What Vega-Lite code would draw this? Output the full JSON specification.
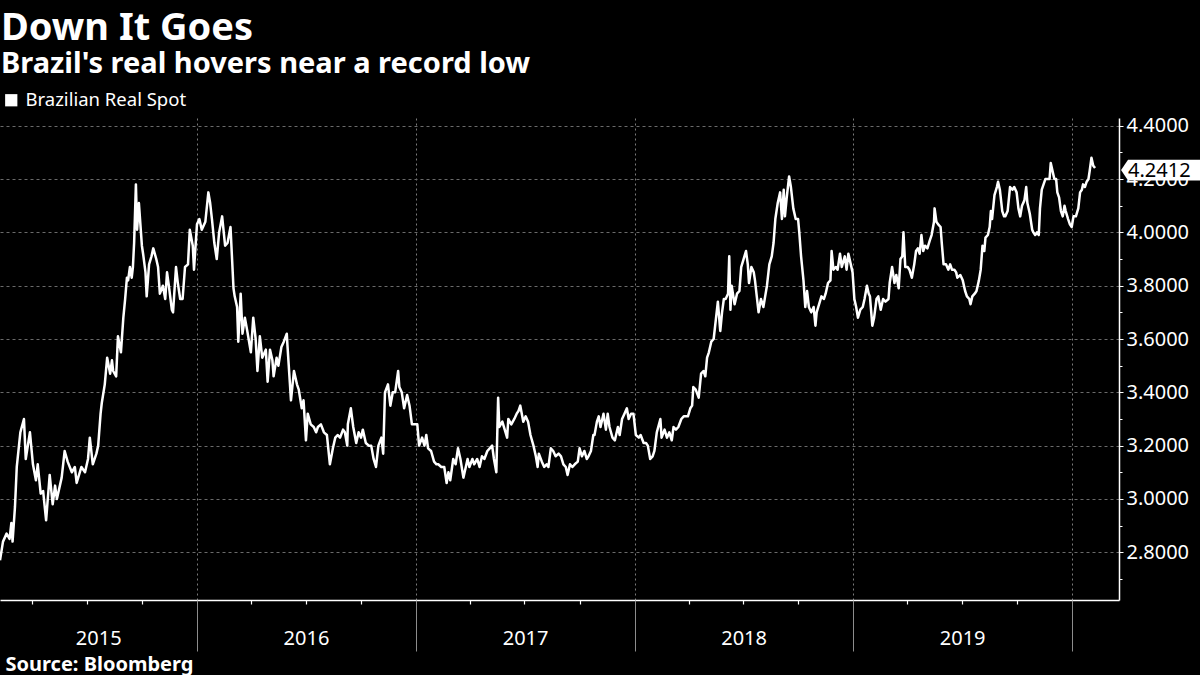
{
  "$schema": "https://vega.github.io/schema/vega-lite/v6.json",
  "background": "black",
  "width": 1119,
  "height": 482,
  "autosize": {"type": "none"},
  "padding": {"left": 0, "top": 118, "right": 81, "bottom": 75},
  "title": {
    "text": "Down It Goes",
    "subtitle": "Brazil's real hovers near a record low",
    "anchor": "start",
    "frame": "group",
    "color": "white",
    "subtitleColor": "white",
    "font": "Noto Sans",
    "subtitleFont": "Noto Sans",
    "fontSize": 38,
    "subtitleFontSize": 29,
    "fontWeight": "bold",
    "subtitleFontWeight": "bold",
    "subtitlePadding": 2,
    "offset": 12,
    "dx": 1
  },
  "config": {
    "view": {"stroke": null},
    "font": "Noto Sans",
    "legend": {
      "orient": "none",
      "legendX": 2,
      "legendY": -27,
      "padding": 0,
      "symbolType": "square",
      "symbolSize": 150,
      "symbolFillColor": "white",
      "symbolStrokeColor": "white",
      "symbolStrokeWidth": 0,
      "labelColor": "white",
      "labelFont": "Noto Sans",
      "labelFontSize": 18.5,
      "labelLimit": 400,
      "labelOffset": 5,
      "title": null
    }
  },
  "datasets": {
    "fx": [
      {"date":"2015-02-06","value":2.77},{"date":"2015-02-11","value":2.84},{"date":"2015-02-17","value":2.87},{"date":"2015-02-22","value":2.85},{"date":"2015-02-25","value":2.91},{"date":"2015-02-27","value":2.84},
      {"date":"2015-03-03","value":2.97},{"date":"2015-03-06","value":3.12},{"date":"2015-03-12","value":3.25},{"date":"2015-03-18","value":3.30},{"date":"2015-03-21","value":3.15},{"date":"2015-03-28","value":3.25},
      {"date":"2015-04-02","value":3.13},{"date":"2015-04-07","value":3.07},{"date":"2015-04-10","value":3.13},{"date":"2015-04-15","value":3.02},{"date":"2015-04-19","value":3.03},{"date":"2015-04-24","value":2.92},{"date":"2015-04-30","value":3.09},
      {"date":"2015-05-05","value":2.98},{"date":"2015-05-09","value":3.05},{"date":"2015-05-12","value":3.00},{"date":"2015-05-20","value":3.08},{"date":"2015-05-25","value":3.18},{"date":"2015-05-30","value":3.14},
      {"date":"2015-06-06","value":3.10},{"date":"2015-06-11","value":3.12},{"date":"2015-06-14","value":3.06},{"date":"2015-06-22","value":3.12},{"date":"2015-06-28","value":3.10},
      {"date":"2015-07-03","value":3.15},{"date":"2015-07-06","value":3.23},{"date":"2015-07-11","value":3.13},{"date":"2015-07-17","value":3.17},{"date":"2015-07-20","value":3.20},{"date":"2015-07-24","value":3.32},{"date":"2015-07-26","value":3.36},{"date":"2015-07-31","value":3.43},
      {"date":"2015-08-04","value":3.53},{"date":"2015-08-09","value":3.47},{"date":"2015-08-12","value":3.52},{"date":"2015-08-14","value":3.48},{"date":"2015-08-19","value":3.46},{"date":"2015-08-22","value":3.61},{"date":"2015-08-27","value":3.55},{"date":"2015-08-31","value":3.68},
      {"date":"2015-09-03","value":3.75},{"date":"2015-09-06","value":3.83},{"date":"2015-09-08","value":3.82},{"date":"2015-09-11","value":3.87},{"date":"2015-09-14","value":3.83},{"date":"2015-09-16","value":3.87},{"date":"2015-09-18","value":3.96},{"date":"2015-09-21","value":4.18},{"date":"2015-09-23","value":4.01},{"date":"2015-09-26","value":4.11},
      {"date":"2015-10-01","value":3.95},{"date":"2015-10-03","value":3.92},{"date":"2015-10-07","value":3.85},{"date":"2015-10-09","value":3.76},{"date":"2015-10-13","value":3.88},{"date":"2015-10-17","value":3.91},{"date":"2015-10-20","value":3.94},{"date":"2015-10-25","value":3.90},{"date":"2015-10-28","value":3.87},{"date":"2015-10-31","value":3.77},
      {"date":"2015-11-05","value":3.80},{"date":"2015-11-09","value":3.75},{"date":"2015-11-12","value":3.85},{"date":"2015-11-15","value":3.80},{"date":"2015-11-20","value":3.71},{"date":"2015-11-22","value":3.70},{"date":"2015-11-27","value":3.87},{"date":"2015-11-30","value":3.81},
      {"date":"2015-12-04","value":3.75},{"date":"2015-12-08","value":3.75},{"date":"2015-12-12","value":3.87},{"date":"2015-12-17","value":3.88},{"date":"2015-12-20","value":4.01},{"date":"2015-12-25","value":3.95},{"date":"2015-12-27","value":3.86},
      {"date":"2016-01-01","value":4.03},{"date":"2016-01-05","value":4.05},{"date":"2016-01-09","value":4.01},{"date":"2016-01-15","value":4.04},{"date":"2016-01-20","value":4.15},{"date":"2016-01-23","value":4.11},{"date":"2016-01-26","value":4.05},{"date":"2016-01-30","value":3.96},
      {"date":"2016-02-03","value":3.90},{"date":"2016-02-07","value":4.00},{"date":"2016-02-12","value":4.06},{"date":"2016-02-17","value":3.95},{"date":"2016-02-21","value":3.96},{"date":"2016-02-26","value":4.02},
      {"date":"2016-03-02","value":3.79},{"date":"2016-03-04","value":3.76},{"date":"2016-03-08","value":3.72},{"date":"2016-03-10","value":3.59},{"date":"2016-03-14","value":3.77},{"date":"2016-03-17","value":3.62},{"date":"2016-03-21","value":3.68},{"date":"2016-03-25","value":3.63},{"date":"2016-03-31","value":3.55},
      {"date":"2016-04-04","value":3.68},{"date":"2016-04-08","value":3.60},{"date":"2016-04-11","value":3.48},{"date":"2016-04-15","value":3.61},{"date":"2016-04-19","value":3.53},{"date":"2016-04-25","value":3.56},{"date":"2016-04-28","value":3.44},
      {"date":"2016-05-02","value":3.56},{"date":"2016-05-06","value":3.52},{"date":"2016-05-08","value":3.46},{"date":"2016-05-13","value":3.53},{"date":"2016-05-16","value":3.50},{"date":"2016-05-21","value":3.57},{"date":"2016-05-25","value":3.59},{"date":"2016-05-30","value":3.62},{"date":"2016-05-31","value":3.58},
      {"date":"2016-06-06","value":3.37},{"date":"2016-06-11","value":3.48},{"date":"2016-06-16","value":3.43},{"date":"2016-06-19","value":3.41},{"date":"2016-06-24","value":3.34},{"date":"2016-06-27","value":3.37},
      {"date":"2016-07-01","value":3.22},{"date":"2016-07-04","value":3.32},{"date":"2016-07-09","value":3.28},{"date":"2016-07-14","value":3.27},{"date":"2016-07-18","value":3.25},{"date":"2016-07-21","value":3.27},{"date":"2016-07-26","value":3.28},{"date":"2016-07-31","value":3.25},
      {"date":"2016-08-05","value":3.24},{"date":"2016-08-10","value":3.13},{"date":"2016-08-15","value":3.19},{"date":"2016-08-19","value":3.23},{"date":"2016-08-23","value":3.24},{"date":"2016-08-27","value":3.23},
      {"date":"2016-09-01","value":3.26},{"date":"2016-09-04","value":3.25},{"date":"2016-09-08","value":3.20},{"date":"2016-09-09","value":3.28},{"date":"2016-09-14","value":3.34},{"date":"2016-09-18","value":3.27},{"date":"2016-09-23","value":3.21},{"date":"2016-09-27","value":3.25},
      {"date":"2016-10-01","value":3.23},{"date":"2016-10-04","value":3.26},{"date":"2016-10-09","value":3.21},{"date":"2016-10-14","value":3.20},{"date":"2016-10-18","value":3.20},{"date":"2016-10-22","value":3.15},{"date":"2016-10-26","value":3.12},{"date":"2016-10-30","value":3.20},
      {"date":"2016-11-04","value":3.23},{"date":"2016-11-07","value":3.17},{"date":"2016-11-10","value":3.40},{"date":"2016-11-15","value":3.43},{"date":"2016-11-19","value":3.35},{"date":"2016-11-23","value":3.40},{"date":"2016-11-27","value":3.40},
      {"date":"2016-12-02","value":3.48},{"date":"2016-12-04","value":3.42},{"date":"2016-12-08","value":3.40},{"date":"2016-12-12","value":3.34},{"date":"2016-12-17","value":3.39},{"date":"2016-12-21","value":3.35},{"date":"2016-12-25","value":3.28},{"date":"2016-12-29","value":3.28},
      {"date":"2017-01-03","value":3.28},{"date":"2017-01-06","value":3.20},{"date":"2017-01-11","value":3.23},{"date":"2017-01-15","value":3.20},{"date":"2017-01-18","value":3.24},{"date":"2017-01-21","value":3.19},{"date":"2017-01-26","value":3.18},{"date":"2017-01-31","value":3.14},
      {"date":"2017-02-04","value":3.13},{"date":"2017-02-07","value":3.13},{"date":"2017-02-12","value":3.12},{"date":"2017-02-17","value":3.12},{"date":"2017-02-21","value":3.06},{"date":"2017-02-24","value":3.10},{"date":"2017-02-27","value":3.07},
      {"date":"2017-03-04","value":3.15},{"date":"2017-03-08","value":3.13},{"date":"2017-03-12","value":3.19},{"date":"2017-03-16","value":3.15},{"date":"2017-03-21","value":3.08},{"date":"2017-03-25","value":3.12},{"date":"2017-03-28","value":3.15},{"date":"2017-03-31","value":3.12},
      {"date":"2017-04-05","value":3.15},{"date":"2017-04-08","value":3.13},{"date":"2017-04-13","value":3.15},{"date":"2017-04-17","value":3.12},{"date":"2017-04-21","value":3.16},{"date":"2017-04-25","value":3.15},{"date":"2017-04-30","value":3.18},
      {"date":"2017-05-04","value":3.19},{"date":"2017-05-08","value":3.20},{"date":"2017-05-11","value":3.15},{"date":"2017-05-15","value":3.10},{"date":"2017-05-18","value":3.38},{"date":"2017-05-20","value":3.27},{"date":"2017-05-25","value":3.29},{"date":"2017-05-29","value":3.26},
      {"date":"2017-06-02","value":3.23},{"date":"2017-06-04","value":3.30},{"date":"2017-06-09","value":3.28},{"date":"2017-06-14","value":3.30},{"date":"2017-06-18","value":3.32},{"date":"2017-06-21","value":3.33},{"date":"2017-06-24","value":3.35},{"date":"2017-06-29","value":3.29},
      {"date":"2017-07-03","value":3.31},{"date":"2017-07-07","value":3.29},{"date":"2017-07-11","value":3.24},{"date":"2017-07-16","value":3.20},{"date":"2017-07-20","value":3.16},{"date":"2017-07-23","value":3.12},{"date":"2017-07-25","value":3.17},{"date":"2017-07-30","value":3.14},
      {"date":"2017-08-03","value":3.12},{"date":"2017-08-07","value":3.13},{"date":"2017-08-10","value":3.12},{"date":"2017-08-14","value":3.19},{"date":"2017-08-18","value":3.18},{"date":"2017-08-22","value":3.16},{"date":"2017-08-27","value":3.17},{"date":"2017-08-31","value":3.16},
      {"date":"2017-09-04","value":3.13},{"date":"2017-09-08","value":3.12},{"date":"2017-09-11","value":3.09},{"date":"2017-09-15","value":3.13},{"date":"2017-09-19","value":3.12},{"date":"2017-09-23","value":3.13},{"date":"2017-09-28","value":3.14},
      {"date":"2017-10-01","value":3.19},{"date":"2017-10-05","value":3.16},{"date":"2017-10-09","value":3.18},{"date":"2017-10-13","value":3.15},{"date":"2017-10-16","value":3.16},{"date":"2017-10-20","value":3.18},{"date":"2017-10-24","value":3.24},{"date":"2017-10-26","value":3.24},{"date":"2017-10-30","value":3.29},
      {"date":"2017-11-02","value":3.31},{"date":"2017-11-05","value":3.27},{"date":"2017-11-10","value":3.32},{"date":"2017-11-14","value":3.26},{"date":"2017-11-17","value":3.32},{"date":"2017-11-20","value":3.27},{"date":"2017-11-25","value":3.23},{"date":"2017-11-29","value":3.22},
      {"date":"2017-12-04","value":3.27},{"date":"2017-12-07","value":3.24},{"date":"2017-12-11","value":3.30},{"date":"2017-12-15","value":3.32},{"date":"2017-12-19","value":3.34},{"date":"2017-12-22","value":3.30},{"date":"2017-12-26","value":3.32},{"date":"2017-12-30","value":3.32},
      {"date":"2018-01-03","value":3.24},{"date":"2018-01-08","value":3.23},{"date":"2018-01-11","value":3.24},{"date":"2018-01-16","value":3.21},{"date":"2018-01-20","value":3.21},{"date":"2018-01-23","value":3.20},{"date":"2018-01-27","value":3.15},{"date":"2018-01-31","value":3.16},
      {"date":"2018-02-03","value":3.18},{"date":"2018-02-07","value":3.25},{"date":"2018-02-13","value":3.30},{"date":"2018-02-15","value":3.23},{"date":"2018-02-20","value":3.26},{"date":"2018-02-24","value":3.23},{"date":"2018-02-28","value":3.25},
      {"date":"2018-03-04","value":3.22},{"date":"2018-03-07","value":3.27},{"date":"2018-03-11","value":3.26},{"date":"2018-03-15","value":3.27},{"date":"2018-03-20","value":3.30},{"date":"2018-03-24","value":3.31},{"date":"2018-03-28","value":3.31},{"date":"2018-03-31","value":3.31},
      {"date":"2018-04-04","value":3.34},{"date":"2018-04-07","value":3.35},{"date":"2018-04-09","value":3.42},{"date":"2018-04-13","value":3.41},{"date":"2018-04-18","value":3.38},{"date":"2018-04-22","value":3.47},{"date":"2018-04-26","value":3.48},{"date":"2018-04-29","value":3.46},
      {"date":"2018-05-02","value":3.53},{"date":"2018-05-05","value":3.55},{"date":"2018-05-09","value":3.59},{"date":"2018-05-13","value":3.60},{"date":"2018-05-17","value":3.68},{"date":"2018-05-20","value":3.74},{"date":"2018-05-24","value":3.63},{"date":"2018-05-27","value":3.70},{"date":"2018-05-30","value":3.75},
      {"date":"2018-06-02","value":3.75},{"date":"2018-06-06","value":3.77},{"date":"2018-06-08","value":3.91},{"date":"2018-06-10","value":3.71},{"date":"2018-06-12","value":3.80},{"date":"2018-06-17","value":3.73},{"date":"2018-06-21","value":3.77},{"date":"2018-06-25","value":3.78},{"date":"2018-06-28","value":3.87},
      {"date":"2018-07-02","value":3.90},{"date":"2018-07-06","value":3.93},{"date":"2018-07-09","value":3.88},{"date":"2018-07-11","value":3.81},{"date":"2018-07-15","value":3.87},{"date":"2018-07-19","value":3.85},{"date":"2018-07-21","value":3.82},{"date":"2018-07-24","value":3.76},{"date":"2018-07-27","value":3.70},{"date":"2018-07-31","value":3.75},
      {"date":"2018-08-04","value":3.72},{"date":"2018-08-07","value":3.76},{"date":"2018-08-10","value":3.80},{"date":"2018-08-14","value":3.88},{"date":"2018-08-18","value":3.91},{"date":"2018-08-21","value":3.96},{"date":"2018-08-24","value":4.05},{"date":"2018-08-28","value":4.11},
      {"date":"2018-09-01","value":4.15},{"date":"2018-09-04","value":4.05},{"date":"2018-09-07","value":4.16},{"date":"2018-09-09","value":4.06},{"date":"2018-09-12","value":4.13},{"date":"2018-09-16","value":4.21},{"date":"2018-09-19","value":4.17},{"date":"2018-09-23","value":4.09},{"date":"2018-09-27","value":4.05},
      {"date":"2018-10-01","value":4.05},{"date":"2018-10-03","value":4.00},{"date":"2018-10-06","value":3.91},{"date":"2018-10-10","value":3.82},{"date":"2018-10-13","value":3.72},{"date":"2018-10-16","value":3.78},{"date":"2018-10-19","value":3.72},{"date":"2018-10-23","value":3.70},{"date":"2018-10-27","value":3.72},{"date":"2018-10-30","value":3.65},
      {"date":"2018-11-01","value":3.70},{"date":"2018-11-05","value":3.73},{"date":"2018-11-09","value":3.76},{"date":"2018-11-13","value":3.75},{"date":"2018-11-16","value":3.77},{"date":"2018-11-20","value":3.81},{"date":"2018-11-24","value":3.82},{"date":"2018-11-26","value":3.93},{"date":"2018-11-29","value":3.86},
      {"date":"2018-12-03","value":3.87},{"date":"2018-12-06","value":3.86},{"date":"2018-12-10","value":3.92},{"date":"2018-12-13","value":3.87},{"date":"2018-12-18","value":3.91},{"date":"2018-12-21","value":3.86},{"date":"2018-12-24","value":3.92},{"date":"2018-12-28","value":3.88},{"date":"2018-12-31","value":3.85},
      {"date":"2019-01-03","value":3.75},{"date":"2019-01-06","value":3.72},{"date":"2019-01-09","value":3.68},{"date":"2019-01-13","value":3.71},{"date":"2019-01-17","value":3.72},{"date":"2019-01-20","value":3.75},{"date":"2019-01-24","value":3.80},{"date":"2019-01-27","value":3.77},{"date":"2019-01-29","value":3.76},
      {"date":"2019-02-02","value":3.65},{"date":"2019-02-05","value":3.68},{"date":"2019-02-09","value":3.75},{"date":"2019-02-12","value":3.76},{"date":"2019-02-16","value":3.71},{"date":"2019-02-20","value":3.75},{"date":"2019-02-24","value":3.74},
      {"date":"2019-03-01","value":3.75},{"date":"2019-03-03","value":3.81},{"date":"2019-03-07","value":3.87},{"date":"2019-03-11","value":3.81},{"date":"2019-03-14","value":3.84},{"date":"2019-03-18","value":3.79},{"date":"2019-03-21","value":3.90},{"date":"2019-03-24","value":3.91},{"date":"2019-03-26","value":4.00},{"date":"2019-03-29","value":3.87},
      {"date":"2019-04-02","value":3.87},{"date":"2019-04-05","value":3.86},{"date":"2019-04-09","value":3.83},{"date":"2019-04-13","value":3.88},{"date":"2019-04-16","value":3.93},{"date":"2019-04-19","value":3.94},{"date":"2019-04-22","value":3.92},{"date":"2019-04-25","value":3.99},{"date":"2019-04-28","value":3.93},
      {"date":"2019-05-01","value":3.95},{"date":"2019-05-05","value":3.94},{"date":"2019-05-09","value":3.97},{"date":"2019-05-12","value":3.99},{"date":"2019-05-16","value":4.04},{"date":"2019-05-17","value":4.09},{"date":"2019-05-20","value":4.04},{"date":"2019-05-23","value":4.03},{"date":"2019-05-27","value":4.02},{"date":"2019-05-29","value":3.96},
      {"date":"2019-06-01","value":3.88},{"date":"2019-06-05","value":3.88},{"date":"2019-06-09","value":3.86},{"date":"2019-06-12","value":3.88},{"date":"2019-06-15","value":3.86},{"date":"2019-06-19","value":3.86},{"date":"2019-06-22","value":3.85},{"date":"2019-06-24","value":3.83},{"date":"2019-06-29","value":3.84},
      {"date":"2019-07-03","value":3.82},{"date":"2019-07-07","value":3.78},{"date":"2019-07-10","value":3.76},{"date":"2019-07-14","value":3.75},{"date":"2019-07-16","value":3.73},{"date":"2019-07-19","value":3.76},{"date":"2019-07-23","value":3.77},{"date":"2019-07-26","value":3.78},{"date":"2019-07-30","value":3.82},
      {"date":"2019-08-02","value":3.86},{"date":"2019-08-05","value":3.95},{"date":"2019-08-08","value":3.93},{"date":"2019-08-10","value":3.98},{"date":"2019-08-14","value":3.99},{"date":"2019-08-17","value":4.02},{"date":"2019-08-19","value":4.08},{"date":"2019-08-21","value":4.05},{"date":"2019-08-25","value":4.14},{"date":"2019-08-29","value":4.17},{"date":"2019-08-31","value":4.19},
      {"date":"2019-09-03","value":4.16},{"date":"2019-09-07","value":4.08},{"date":"2019-09-10","value":4.06},{"date":"2019-09-12","value":4.06},{"date":"2019-09-16","value":4.08},{"date":"2019-09-20","value":4.17},{"date":"2019-09-24","value":4.16},{"date":"2019-09-27","value":4.17},
      {"date":"2019-10-01","value":4.15},{"date":"2019-10-04","value":4.09},{"date":"2019-10-07","value":4.06},{"date":"2019-10-10","value":4.10},{"date":"2019-10-14","value":4.12},{"date":"2019-10-17","value":4.17},{"date":"2019-10-19","value":4.11},{"date":"2019-10-23","value":4.07},{"date":"2019-10-27","value":4.01},{"date":"2019-10-29","value":4.00},
      {"date":"2019-11-01","value":3.99},{"date":"2019-11-04","value":4.00},{"date":"2019-11-07","value":3.99},{"date":"2019-11-09","value":4.09},{"date":"2019-11-12","value":4.16},{"date":"2019-11-15","value":4.18},{"date":"2019-11-18","value":4.20},{"date":"2019-11-21","value":4.20},{"date":"2019-11-25","value":4.20},{"date":"2019-11-27","value":4.26},{"date":"2019-11-30","value":4.23},
      {"date":"2019-12-03","value":4.20},{"date":"2019-12-06","value":4.20},{"date":"2019-12-08","value":4.15},{"date":"2019-12-11","value":4.13},{"date":"2019-12-14","value":4.08},{"date":"2019-12-17","value":4.06},{"date":"2019-12-20","value":4.10},{"date":"2019-12-22","value":4.08},{"date":"2019-12-26","value":4.05},{"date":"2019-12-29","value":4.03},
      {"date":"2020-01-01","value":4.02},{"date":"2020-01-04","value":4.06},{"date":"2020-01-08","value":4.06},{"date":"2020-01-12","value":4.09},{"date":"2020-01-15","value":4.15},{"date":"2020-01-18","value":4.16},{"date":"2020-01-20","value":4.18},{"date":"2020-01-23","value":4.17},{"date":"2020-01-26","value":4.19},{"date":"2020-01-29","value":4.20},{"date":"2020-01-31","value":4.23},
      {"date":"2020-02-03","value":4.28},{"date":"2020-02-06","value":4.25},{"date":"2020-02-09","value":4.2412}
    ],
    "last": [{"date":"2020-02-09","value":4.2412}]
  },
  "resolve": {"axis": {"x": "independent", "y": "independent"}},
  "layer": [
    {
      "data": {"name": "fx"},
      "mark": {"type": "line", "strokeWidth": 2.5, "strokeJoin": "round"},
      "encoding": {
        "x": {
          "field": "date", "type": "temporal",
          "scale": {"domain": [{"year": 2015, "month": 2, "date": 6, "utc": true}, {"year": 2020, "month": 3, "date": 20, "utc": true}]},
          "axis": {
            "orient": "bottom",
            "values": [
              {"year": 2015, "month": 4, "date": 1, "utc": true}, {"year": 2015, "month": 7, "date": 1, "utc": true}, {"year": 2015, "month": 10, "date": 1, "utc": true},
              {"year": 2016, "month": 4, "date": 1, "utc": true}, {"year": 2016, "month": 7, "date": 1, "utc": true}, {"year": 2016, "month": 10, "date": 1, "utc": true},
              {"year": 2017, "month": 4, "date": 1, "utc": true}, {"year": 2017, "month": 7, "date": 1, "utc": true}, {"year": 2017, "month": 10, "date": 1, "utc": true},
              {"year": 2018, "month": 4, "date": 1, "utc": true}, {"year": 2018, "month": 7, "date": 1, "utc": true}, {"year": 2018, "month": 10, "date": 1, "utc": true},
              {"year": 2019, "month": 4, "date": 1, "utc": true}, {"year": 2019, "month": 7, "date": 1, "utc": true}, {"year": 2019, "month": 10, "date": 1, "utc": true}
            ],
            "labels": false, "grid": false, "title": null,
            "domain": true, "domainColor": "white", "domainWidth": 1.5,
            "ticks": true, "tickColor": "white", "tickSize": 4, "tickWidth": 1.2
          }
        },
        "y": {
          "field": "value", "type": "quantitative",
          "scale": {"domain": [2.621, 4.429], "nice": false, "zero": false},
          "axis": {
            "orient": "right",
            "values": [2.8, 3.0, 3.2, 3.4, 3.6, 3.8, 4.0, 4.2, 4.4],
            "format": ".4f", "title": null,
            "labelColor": "white", "labelFont": "Noto Sans", "labelFontSize": 20, "labelPadding": 3,
            "grid": true, "gridColor": "#6a6a6a", "gridDash": [3, 3], "gridWidth": 1,
            "domain": true, "domainColor": "white", "domainWidth": 1.5,
            "ticks": true, "tickColor": "white", "tickSize": 4
          }
        },
        "color": {
          "datum": "Brazilian Real Spot",
          "scale": {"range": ["white"]},
          "legend": {}
        }
      }
    },
    {
      "data": {"name": "last"},
      "mark": {
        "type": "point",
        "shape": "M-1,0L-0.825,-0.26L1,-0.26L1,0.26L-0.825,0.26Z",
        "size": 6400, "filled": true, "color": "white", "opacity": 1, "strokeWidth": 0,
        "xOffset": 66, "yOffset": 2
      },
      "encoding": {
        "x": {
          "field": "date", "type": "temporal",
          "axis": {
            "orient": "bottom",
            "values": [
              {"year": 2016, "month": 1, "date": 1, "utc": true}, {"year": 2017, "month": 1, "date": 1, "utc": true},
              {"year": 2018, "month": 1, "date": 1, "utc": true}, {"year": 2019, "month": 1, "date": 1, "utc": true},
              {"year": 2020, "month": 1, "date": 1, "utc": true}
            ],
            "labels": false, "title": null, "domain": false,
            "grid": true, "gridColor": "#7a7a7a", "gridDash": [2, 3], "gridWidth": 1,
            "ticks": true, "tickColor": "#8c8c8c", "tickSize": 51, "tickWidth": 1
          }
        },
        "y": {
          "field": "value", "type": "quantitative",
          "axis": {
            "orient": "right",
            "values": [2.7, 2.9, 3.1, 3.3, 3.5, 3.7, 3.9, 4.1, 4.3],
            "labels": false, "title": null, "domain": false, "grid": false,
            "ticks": true, "tickColor": "white", "tickSize": 3
          }
        }
      }
    },
    {
      "data": {"name": "last"},
      "mark": {"type": "text", "align": "left", "baseline": "middle", "dx": 33, "dy": 3, "fontSize": 20, "font": "Noto Sans", "color": "black"},
      "encoding": {
        "x": {
          "field": "date", "type": "temporal",
          "axis": {
            "orient": "bottom",
            "values": [
              {"year": 2015, "month": 7, "date": 20, "utc": true}, {"year": 2016, "month": 7, "date": 1, "utc": true},
              {"year": 2017, "month": 7, "date": 2, "utc": true}, {"year": 2018, "month": 7, "date": 2, "utc": true},
              {"year": 2019, "month": 7, "date": 2, "utc": true}
            ],
            "format": "%Y", "labelColor": "white", "labelFont": "Noto Sans", "labelFontSize": 20,
            "labelBaseline": "middle", "labelPadding": 38, "labelFlush": false, "labelOverlap": false,
            "ticks": false, "domain": false, "grid": false,
            "title": "Source:  Bloomberg", "titleColor": "white", "titleFont": "Noto Sans", "titleFontSize": 20, "titleFontWeight": "bold",
            "titleAnchor": "start", "titleAlign": "left", "titleBaseline": "alphabetic", "titleX": 5, "titleY": 70
          }
        },
        "y": {"field": "value", "type": "quantitative", "axis": null},
        "text": {"field": "value", "type": "quantitative", "format": ".4f"}
      }
    }
  ]
}
